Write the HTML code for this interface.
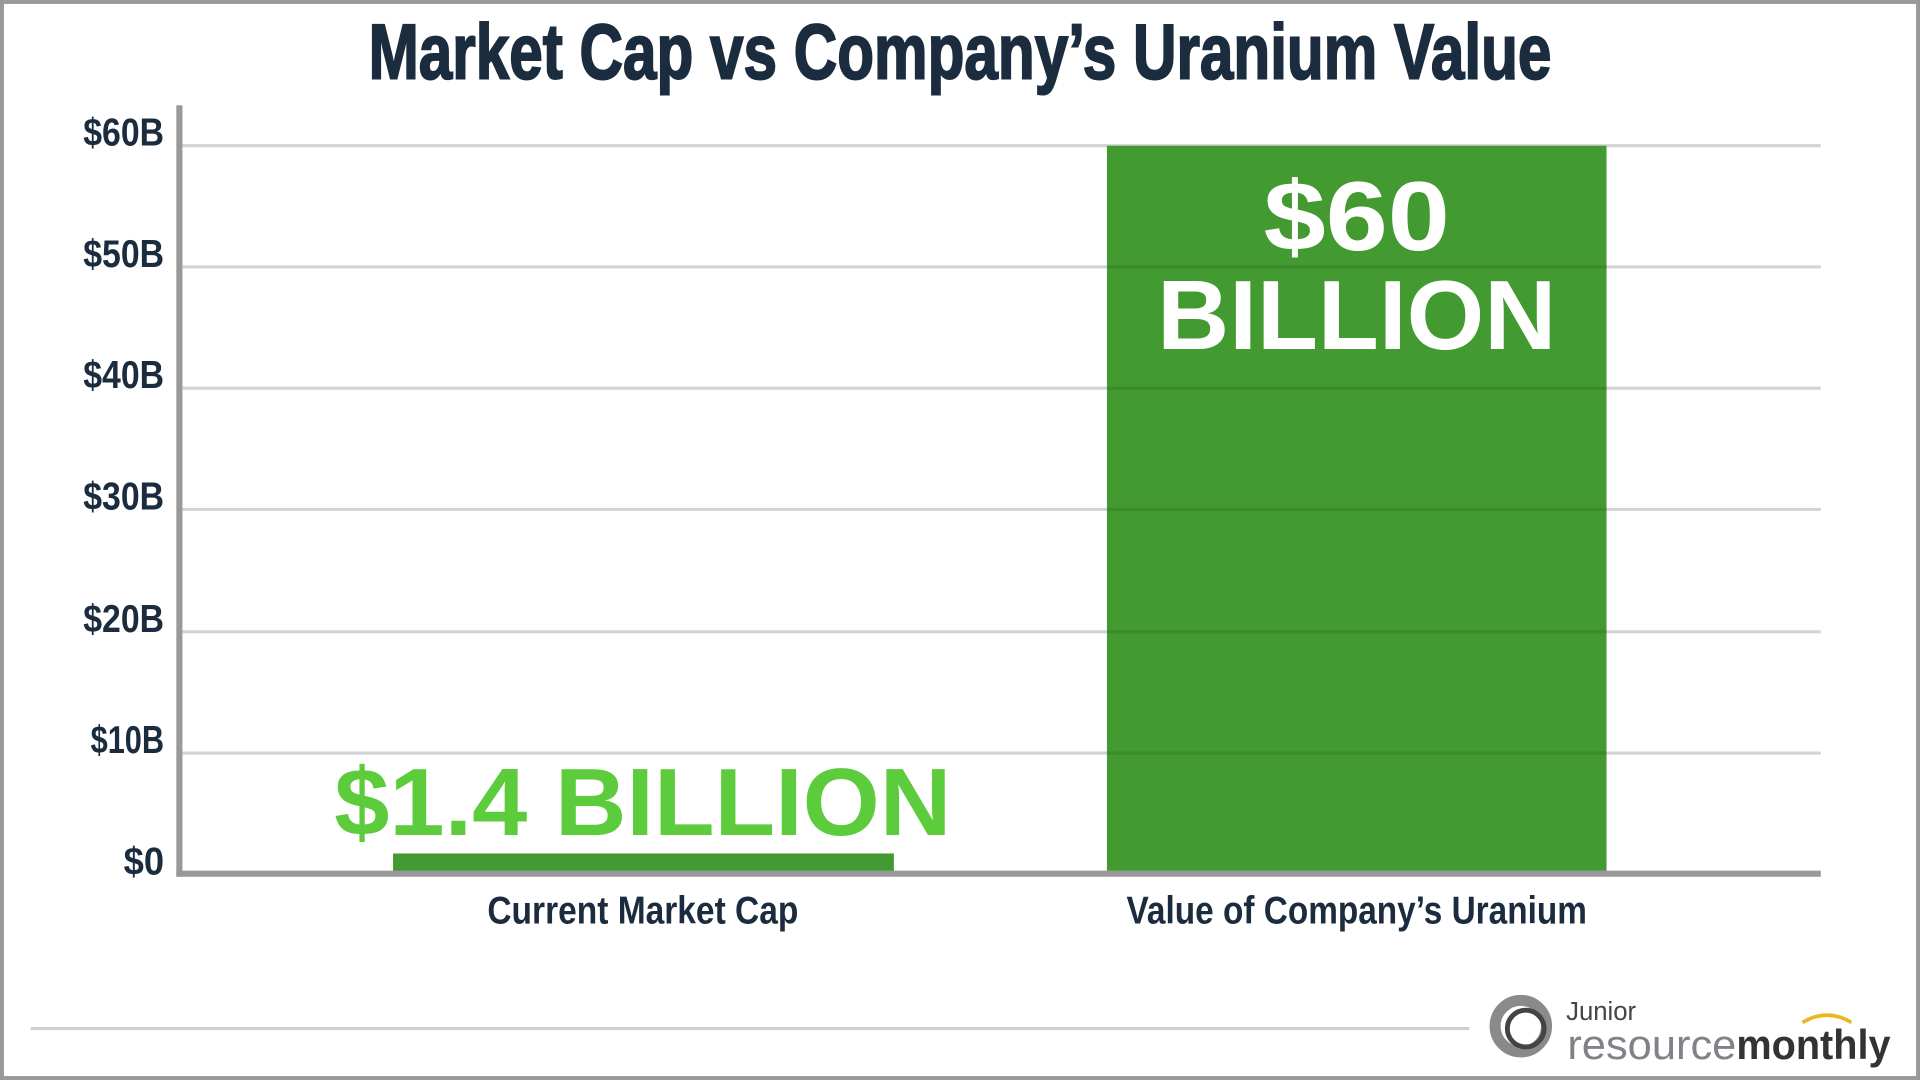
<!DOCTYPE html>
<html><head><meta charset="utf-8"><style>
html,body{margin:0;padding:0;background:#fff;width:1920px;height:1080px;overflow:hidden}
svg{display:block}
</style></head><body>
<svg width="1920" height="1080" viewBox="0 0 1568 882" xmlns="http://www.w3.org/2000/svg" font-family="Liberation Sans, sans-serif">
<rect x="1.6" y="1.6" width="1564.8" height="878.8" fill="#fff" stroke="#999" stroke-width="3.2"/>
<text x="784" y="64" text-anchor="middle" font-size="64" font-weight="bold" fill="#1b2c3e" stroke="#1b2c3e" stroke-width="1.6" textLength="966" lengthAdjust="spacingAndGlyphs">Market Cap vs Company’s Uranium Value</text>
<g stroke="#d3d3d3" stroke-width="2.5">
<line x1="147" x2="1487" y1="119" y2="119"/>
<line x1="147" x2="1487" y1="218" y2="218"/>
<line x1="147" x2="1487" y1="317" y2="317"/>
<line x1="147" x2="1487" y1="416" y2="416"/>
<line x1="147" x2="1487" y1="516" y2="516"/>
<line x1="147" x2="1487" y1="615" y2="615"/>
</g>
<rect x="321" y="697" width="409" height="15" fill="#429a30"/>
<rect x="904" y="119" width="408" height="593" fill="#429a30"/>
<g stroke="#2e6e22" stroke-opacity="0.35" stroke-width="2.5">
<line x1="904" x2="1312" y1="218" y2="218"/>
<line x1="904" x2="1312" y1="317" y2="317"/>
<line x1="904" x2="1312" y1="416" y2="416"/>
<line x1="904" x2="1312" y1="516" y2="516"/>
<line x1="904" x2="1312" y1="615" y2="615"/>
</g>
<rect x="144" y="86" width="5" height="630" fill="#999"/>
<rect x="144" y="711" width="1343" height="5" fill="#999"/>
<g font-size="32" font-weight="bold" fill="#1b2c3e" text-anchor="end">
<text x="134" y="119" textLength="66" lengthAdjust="spacingAndGlyphs">$60B</text>
<text x="134" y="218" textLength="66" lengthAdjust="spacingAndGlyphs">$50B</text>
<text x="134" y="317" textLength="66" lengthAdjust="spacingAndGlyphs">$40B</text>
<text x="134" y="416" textLength="66" lengthAdjust="spacingAndGlyphs">$30B</text>
<text x="134" y="516" textLength="66" lengthAdjust="spacingAndGlyphs">$20B</text>
<text x="134" y="615" textLength="60" lengthAdjust="spacingAndGlyphs">$10B</text>
<text x="134" y="714" textLength="33" lengthAdjust="spacingAndGlyphs">$0</text>
</g>
<g font-size="32" font-weight="bold" fill="#1b2c3e" text-anchor="middle">
<text x="525" y="754" textLength="254" lengthAdjust="spacingAndGlyphs">Current Market Cap</text>
<text x="1108" y="754" textLength="376" lengthAdjust="spacingAndGlyphs">Value of Company’s Uranium</text>
</g>
<text x="525" y="682" text-anchor="middle" font-size="78" font-weight="bold" fill="#5ccc3c" textLength="504" lengthAdjust="spacingAndGlyphs">$1.4 BILLION</text>
<text x="1108" y="204" text-anchor="middle" font-size="80" font-weight="bold" fill="#fff" textLength="152" lengthAdjust="spacingAndGlyphs">$60</text>
<text x="1108" y="285" text-anchor="middle" font-size="80" font-weight="bold" fill="#fff" textLength="326" lengthAdjust="spacingAndGlyphs">BILLION</text>
<line x1="25" x2="1200" y1="840" y2="840" stroke="#d0d0d0" stroke-width="2.5"/>
<circle cx="1242" cy="838" r="21" fill="none" stroke="#8a8a8a" stroke-width="9"/>
<circle cx="1246" cy="840" r="15" fill="none" stroke="#444" stroke-width="4"/>
<text x="1279" y="833" font-size="21" fill="#444">Junior</text>
<text x="1280" y="865" font-size="34" fill="#848088" textLength="138" lengthAdjust="spacingAndGlyphs">resource</text>
<text x="1418" y="865" font-size="34" font-weight="bold" fill="#333" textLength="126" lengthAdjust="spacingAndGlyphs">monthly</text>
<path d="M1472 835 Q1492 823 1512 835" fill="none" stroke="#e8b820" stroke-width="3"/>
</svg>
</body></html>
